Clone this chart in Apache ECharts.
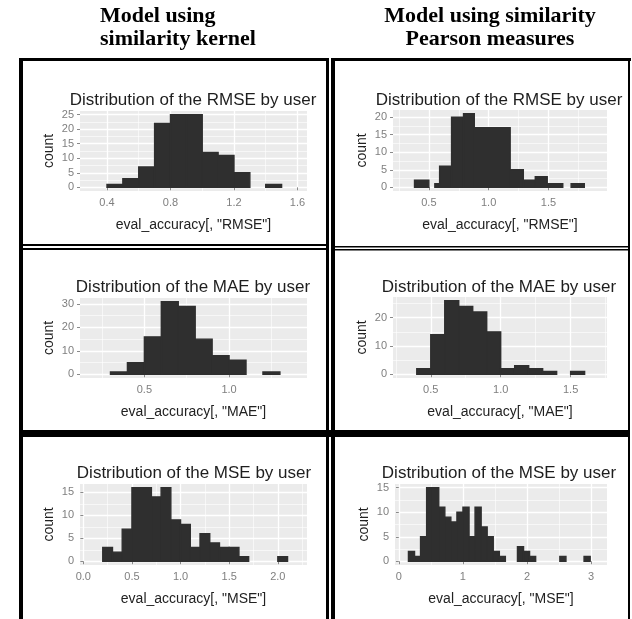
<!DOCTYPE html>
<html>
<head>
<meta charset="utf-8">
<script src="https://cdn.jsdelivr.net/npm/echarts@6/dist/echarts.min.js"></script>
<style>
html,body{margin:0;padding:0;background:#fff;}
#c{width:632px;height:619px;}
</style>
</head>
<body>
<div id="c"></div>
<script>
// ---------- DATA ----------
// Histogram bin edges and counts per panel
const rmseKernelEdges  = [0.4, 0.5, 0.6, 0.7, 0.8, 0.9, 1.0, 1.1, 1.2, 1.3, 1.4, 1.5];
const rmseKernelCounts = [1, 3, 7, 22, 25, 25, 12, 11, 5, 0, 1];

const rmsePearsonEdges  = [0.38, 0.50, 0.55, 0.59, 0.69, 0.79, 0.88, 1.18, 1.29, 1.39, 1.49, 1.62, 1.69, 1.80];
const rmsePearsonCounts = [2, 0, 1, 6, 20, 21, 17, 5, 2, 3, 1, 0, 1];

const maeKernelEdges  = [0.3, 0.4, 0.5, 0.6, 0.7, 0.8, 0.9, 1.0, 1.1, 1.2, 1.3];
const maeKernelCounts = [1, 5, 16, 31, 29, 15, 8, 6, 0, 1];

const maePearsonEdges  = [0.4, 0.5, 0.6, 0.7, 0.8, 0.9, 1.0, 1.1, 1.2, 1.3, 1.4, 1.5, 1.6];
const maePearsonCounts = [2, 14, 26, 24, 22, 15, 2, 3, 2, 1, 0, 1];

const mseKernelEdges  = [0.2, 0.3, 0.4, 0.5, 0.6, 0.7, 0.8, 0.9, 1.0, 1.1, 1.2, 1.3, 1.4, 1.5, 1.6, 1.7, 1.8, 1.9, 2.0, 2.1];
const mseKernelCounts = [3, 2, 7, 16, 16, 14, 16, 9, 8, 3, 6, 4, 3, 3, 1, 0, 0, 0, 1];

const msePearsonEdges  = [0.150, 0.245, 0.339, 0.434, 0.528, 0.623, 0.718, 0.812, 0.907, 1.001, 1.096,
                          1.190, 1.285, 1.379, 1.474, 1.569, 1.663, 1.758, 1.852, 1.947, 2.041,
                          2.136, 2.230, 2.325, 2.420, 2.514, 2.609, 2.703, 2.798, 2.892, 2.987];
const msePearsonCounts = [2, 1, 5, 15, 15, 11, 9, 8, 10, 11, 5, 11, 7, 5, 2, 1, 0, 0, 3, 2, 1, 0, 0, 0, 0, 1, 0, 0, 0, 1];

// Axis ranges
const rmseKernelX = [0.23, 1.66],  rmseKernelY = [-1.25, 26.25];
const rmsePearsonX = [0.20, 1.99], rmsePearsonY = [-1.05, 22.05];
const maeKernelX = [0.12, 1.46],   maeKernelY = [-1.55, 32.55];
const maePearsonX = [0.23, 1.76],  maePearsonY = [-1.3, 27.3];
const mseKernelX = [-0.034, 2.30], mseKernelY = [-0.8, 16.8];
const msePearsonX = [-0.06, 3.25], msePearsonY = [-0.75, 15.75];

// Tick values and labels
const rmseKernelXTicks = [0.4, 0.8, 1.2, 1.6], rmseKernelXLabels = ['0.4', '0.8', '1.2', '1.6'], rmseKernelXMinor = [0.6, 1.0, 1.4];
const rmseKernelYTicks = [0, 5, 10, 15, 20, 25], rmseKernelYMinor = [2.5, 7.5, 12.5, 17.5, 22.5];
const rmsePearsonXTicks = [0.5, 1.0, 1.5], rmsePearsonXLabels = ['0.5', '1.0', '1.5'], rmsePearsonXMinor = [0.25, 0.75, 1.25, 1.75];
const rmsePearsonYTicks = [0, 5, 10, 15, 20], rmsePearsonYMinor = [2.5, 7.5, 12.5, 17.5];
const maeKernelXTicks = [0.5, 1.0], maeKernelXLabels = ['0.5', '1.0'], maeKernelXMinor = [0.25, 0.75, 1.25];
const maeKernelYTicks = [0, 10, 20, 30], maeKernelYMinor = [5, 15, 25];
const maePearsonXTicks = [0.5, 1.0, 1.5], maePearsonXLabels = ['0.5', '1.0', '1.5'], maePearsonXMinor = [0.25, 0.75, 1.25, 1.75];
const maePearsonYTicks = [0, 10, 20], maePearsonYMinor = [5, 15, 25];
const mseKernelXTicks = [0, 0.5, 1.0, 1.5, 2.0], mseKernelXLabels = ['0.0', '0.5', '1.0', '1.5', '2.0'], mseKernelXMinor = [0.25, 0.75, 1.25, 1.75, 2.25];
const mseKernelYTicks = [0, 5, 10, 15], mseKernelYMinor = [2.5, 7.5, 12.5];
const msePearsonXTicks = [0, 1, 2, 3], msePearsonXLabels = ['0', '1', '2', '3'], msePearsonXMinor = [0.5, 1.5, 2.5];
const msePearsonYTicks = [0, 5, 10, 15], msePearsonYMinor = [2.5, 7.5, 12.5];

// Texts
const headerLeft = ['Model using', 'similarity kernel'];
const headerRight = ['Model using similarity', 'Pearson measures'];
const titleRMSE = 'Distribution of the RMSE by user';
const titleMAE = 'Distribution of the MAE by user';
const titleMSE = 'Distribution of the MSE by user';
const nameRMSE = 'eval_accuracy[, "RMSE"]';
const nameMAE = 'eval_accuracy[, "MAE"]';
const nameMSE = 'eval_accuracy[, "MSE"]';
const yName = 'count';

// ---------- LAYOUT ----------
const SANS = '"Liberation Sans", Arial, sans-serif';
const SERIF = '"Liberation Serif", "Times New Roman", serif';
const BAR = '#2f2f2f';

const panels = [
  {edges: rmseKernelEdges, counts: rmseKernelCounts, xr: rmseKernelX, yr: rmseKernelY,
   xt: rmseKernelXTicks, xl: rmseKernelXLabels, xm: rmseKernelXMinor, yt: rmseKernelYTicks, ym: rmseKernelYMinor,
   title: titleRMSE, xn: nameRMSE, g: [80, 111, 227, 80], tp: [193, 100]},
  {edges: rmsePearsonEdges, counts: rmsePearsonCounts, xr: rmsePearsonX, yr: rmsePearsonY,
   xt: rmsePearsonXTicks, xl: rmsePearsonXLabels, xm: rmsePearsonXMinor, yt: rmsePearsonYTicks, ym: rmsePearsonYMinor,
   title: titleRMSE, xn: nameRMSE, g: [393, 110, 214, 81], tp: [499, 100]},
  {edges: maeKernelEdges, counts: maeKernelCounts, xr: maeKernelX, yr: maeKernelY,
   xt: maeKernelXTicks, xl: maeKernelXLabels, xm: maeKernelXMinor, yt: maeKernelYTicks, ym: maeKernelYMinor,
   title: titleMAE, xn: nameMAE, g: [80, 298, 227, 80], tp: [193, 287]},
  {edges: maePearsonEdges, counts: maePearsonCounts, xr: maePearsonX, yr: maePearsonY,
   xt: maePearsonXTicks, xl: maePearsonXLabels, xm: maePearsonXMinor, yt: maePearsonYTicks, ym: maePearsonYMinor,
   title: titleMAE, xn: nameMAE, g: [393, 297, 214, 81], tp: [499, 287]},
  {edges: mseKernelEdges, counts: mseKernelCounts, xr: mseKernelX, yr: mseKernelY,
   xt: mseKernelXTicks, xl: mseKernelXLabels, xm: mseKernelXMinor, yt: mseKernelYTicks, ym: mseKernelYMinor,
   title: titleMSE, xn: nameMSE, g: [80, 484, 227, 81], tp: [194, 473]},
  {edges: msePearsonEdges, counts: msePearsonCounts, xr: msePearsonX, yr: msePearsonY,
   xt: msePearsonXTicks, xl: msePearsonXLabels, xm: msePearsonXMinor, yt: msePearsonYTicks, ym: msePearsonYMinor,
   title: titleMSE, xn: nameMSE, g: [395, 484, 212, 81], tp: [499, 473]}
];

const grids = [], xAxes = [], yAxes = [], series = [], graphics = [];

function lab(ticks, labels) {
  return function (v) {
    const k = ticks.findIndex(t => Math.abs(t - v) < 1e-9);
    return k >= 0 ? labels[k] : '';
  };
}

function renderBar(params, api) {
  const x0 = api.value(0), x1 = api.value(1), c = api.value(2);
  if (!c) return null;
  const p0 = api.coord([x0, c]);
  const p1 = api.coord([x1, 0]);
  return {
    type: 'rect',
    shape: {x: p0[0], y: p0[1], width: p1[0] - p0[0], height: p1[1] - p0[1]},
    style: {fill: BAR, stroke: BAR, lineWidth: 1.4}
  };
}

panels.forEach((p, i) => {
  grids.push({left: p.g[0], top: p.g[1], width: p.g[2], height: p.g[3], show: true,
    backgroundColor: '#EBEBEB', borderWidth: 0, containLabel: false, outerBoundsMode: 'none'});
  // major x axis
  xAxes.push({type: 'value', gridIndex: i, min: p.xr[0], max: p.xr[1],
    axisLine: {show: false},
    axisTick: {show: true, customValues: p.xt, length: 3, lineStyle: {color: '#8a8a8a', width: 1}},
    axisLabel: {customValues: p.xt, formatter: lab(p.xt, p.xl), color: '#7f7f7f', fontSize: 11, margin: 6, fontFamily: SANS},
    splitLine: {show: true, lineStyle: {color: '#ffffff', width: 1.3}},
    name: p.xn, nameLocation: 'middle', nameGap: 27,
    nameTextStyle: {color: '#222', fontSize: 14, fontFamily: SANS}});
  // minor x axis (grid lines only)
  xAxes.push({type: 'value', gridIndex: i, min: p.xr[0], max: p.xr[1],
    axisLine: {show: false}, axisTick: {show: false, customValues: p.xm}, axisLabel: {show: false},
    splitLine: {show: true, lineStyle: {color: '#ffffff', width: 0.6}}});
  // major y axis
  yAxes.push({type: 'value', gridIndex: i, min: p.yr[0], max: p.yr[1],
    axisLine: {show: false},
    axisTick: {show: true, customValues: p.yt, length: 3, lineStyle: {color: '#8a8a8a', width: 1}},
    axisLabel: {customValues: p.yt, formatter: v => String(Math.round(v)), color: '#7f7f7f', fontSize: 11, margin: 6, fontFamily: SANS},
    splitLine: {show: true, lineStyle: {color: '#ffffff', width: 1.3}},
    name: yName, nameLocation: 'middle', nameGap: 24, nameRotate: 90,
    nameTextStyle: {color: '#222', fontSize: 14, fontFamily: SANS}});
  // minor y axis
  yAxes.push({type: 'value', gridIndex: i, min: p.yr[0], max: p.yr[1],
    axisLine: {show: false}, axisTick: {show: false, customValues: p.ym}, axisLabel: {show: false},
    splitLine: {show: true, lineStyle: {color: '#ffffff', width: 0.6}}});

  series.push({type: 'custom', xAxisIndex: 2 * i, yAxisIndex: 2 * i, silent: true,
    data: p.counts.map((c, k) => [p.edges[k], p.edges[k + 1], c]),
    encode: {x: [0, 1], y: 2}, renderItem: renderBar, z: 5});

  graphics.push({type: 'text', x: p.tp[0], y: p.tp[1], silent: true,
    style: {text: p.title, fill: '#1e1e1e', font: '17px ' + SANS, align: 'center', verticalAlign: 'middle',
            textAlign: 'center', textVerticalAlign: 'middle'}});
});

// headers
function hdr(text, x, y, align) {
  graphics.push({type: 'text', x: x, y: y, silent: true,
    style: {text: text, fill: '#000', font: 'bold 22px ' + SERIF, align: align, verticalAlign: 'middle',
            textAlign: align, textVerticalAlign: 'middle'}});
}
hdr(headerLeft[0], 100, 16, 'left');
hdr(headerLeft[1], 100, 39, 'left');
hdr(headerRight[0], 490, 16, 'center');
hdr(headerRight[1], 490, 39, 'center');

// frame
function box(x, y, w, h) {
  graphics.push({type: 'rect', silent: true, shape: {x: x, y: y, width: w, height: h}, style: {fill: '#000'}});
}
box(20, 58, 309, 3);      // top left
box(331, 58, 300, 3);     // top right
box(19, 58, 4, 561);      // left edge
box(326, 58, 3, 561);     // middle (left cell)
box(331, 58, 4, 561);     // middle (right cell)
box(628, 58, 2, 561);     // right edge
box(20, 244, 309, 2);     // row 1/2 left
box(20, 248, 309, 2);
box(331, 246, 299, 1.5);  // row 1/2 right
box(331, 249, 299, 1.5);
box(19, 430, 611, 7);     // row 2/3

const chart = echarts.init(document.getElementById('c'), null, {renderer: 'canvas'});
chart.setOption({
  animation: false,
  backgroundColor: '#ffffff',
  grid: grids,
  xAxis: xAxes,
  yAxis: yAxes,
  series: series,
  graphic: graphics
});
</script>
</body>
</html>
